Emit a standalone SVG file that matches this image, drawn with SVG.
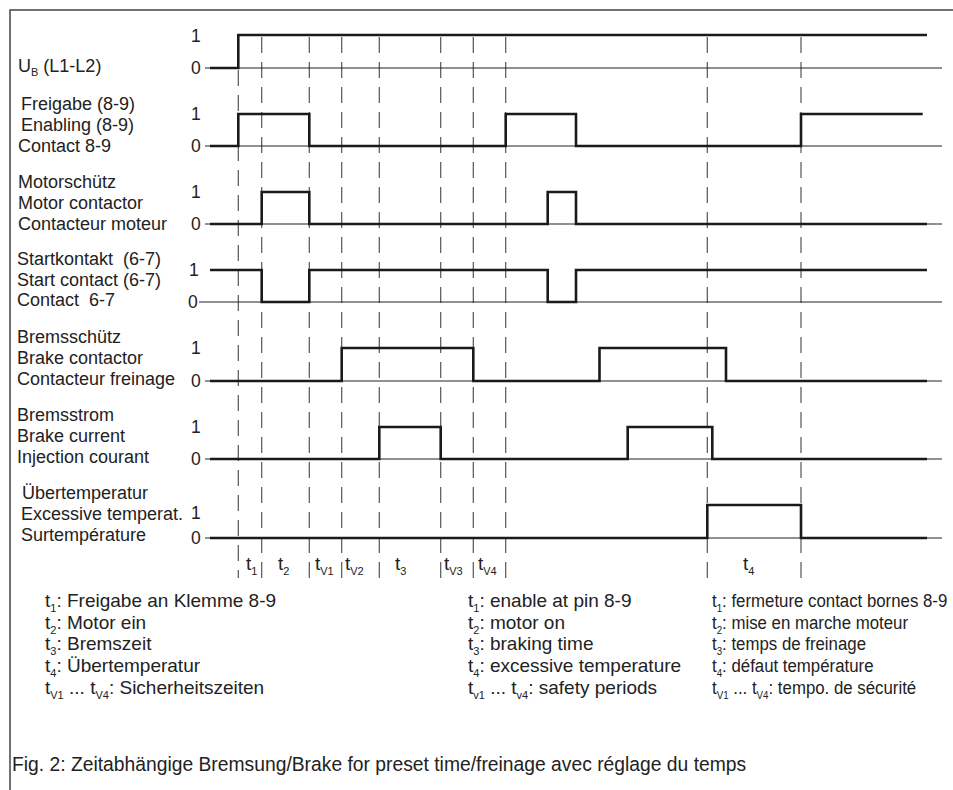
<svg xmlns="http://www.w3.org/2000/svg" width="953" height="790" viewBox="0 0 953 790">
<style>
text{font-family:"Liberation Sans",Arial,sans-serif;fill:#222;}
.lbl{font-size:18px;}
.num{font-size:17.5px;}
.tl{font-size:19px;}
.lg{font-size:19px;}
.cap{font-size:19.3px;}
.sub{font-size:11px;}
.frame{stroke:#444;stroke-width:1.5;fill:none;}
.base{stroke:#222;stroke-width:1.1;fill:none;}
.sig{stroke:#1a1a1a;stroke-width:2.6;fill:none;stroke-linejoin:miter;stroke-linecap:butt;}
.dash{stroke:#555;stroke-width:1.2;stroke-dasharray:16 9;fill:none;}
</style>
<rect width="953" height="790" fill="#fff"/>
<path class="frame" d="M10,790 V10 H953"/>

<g id="connectors">
  <g id="time-markers">
    <line class="dash" x1="238.3" y1="70" x2="238.3" y2="578"/>
    <line class="dash" x1="261.7" y1="37" x2="261.7" y2="578"/>
    <line class="dash" x1="309.3" y1="37" x2="309.3" y2="578"/>
    <line class="dash" x1="341.7" y1="37" x2="341.7" y2="578"/>
    <line class="dash" x1="379.3" y1="37" x2="379.3" y2="578"/>
    <line class="dash" x1="440.7" y1="37" x2="440.7" y2="578"/>
    <line class="dash" x1="473.3" y1="37" x2="473.3" y2="578"/>
    <line class="dash" x1="505.7" y1="37" x2="505.7" y2="578"/>
    <line class="dash" x1="707.3" y1="37" x2="707.3" y2="578"/>
    <line class="dash" x1="801" y1="37" x2="801" y2="578"/>
  </g>
  <g id="baselines">
    <line class="base" x1="205" y1="68" x2="942" y2="68"/>
    <line class="base" x1="205" y1="146" x2="942" y2="146"/>
    <line class="base" x1="205" y1="224" x2="942" y2="224"/>
    <line class="base" x1="199" y1="302" x2="942" y2="302"/>
    <line class="base" x1="205" y1="381" x2="942" y2="381"/>
    <line class="base" x1="205" y1="459" x2="942" y2="459"/>
    <line class="base" x1="205" y1="538" x2="942" y2="538"/>
  </g>
</g>

<g id="ub">
  <text class="lbl" x="18" y="72">U<tspan class="sub" dy="4">B</tspan><tspan dy="-4"> (L1-L2)</tspan></text>
  <text class="num" x="191" y="42">1</text>
  <text class="num" x="191" y="74">0</text>
  <path class="sig" d="M210,68 H238.3 V35 H927"/>
</g>

<g id="enable">
  <text class="lbl" x="21" y="110">Freigabe (8-9)</text>
  <text class="lbl" x="21" y="131">Enabling (8-9)</text>
  <text class="lbl" x="18" y="152">Contact 8-9</text>
  <text class="num" x="191" y="120">1</text>
  <text class="num" x="191" y="152">0</text>
  <path class="sig" d="M210,146 H238.3 V114 H309.3 V146 H505.7 V114 H576 V146 H801 V114 H922.7"/>
</g>

<g id="motor">
  <text class="lbl" x="18" y="188">Motorschütz</text>
  <text class="lbl" x="18" y="209">Motor contactor</text>
  <text class="lbl" x="18" y="230">Contacteur moteur</text>
  <text class="num" x="191" y="198">1</text>
  <text class="num" x="191" y="230">0</text>
  <path class="sig" d="M210,224 H261.7 V192 H309.3 V224 H547.7 V192 H576 V224 H927"/>
</g>

<g id="start">
  <text class="lbl" x="17" y="265" xml:space="preserve">Startkontakt  (6-7)</text>
  <text class="lbl" x="17" y="286">Start contact (6-7)</text>
  <text class="lbl" x="17" y="306" xml:space="preserve">Contact  6-7</text>
  <text class="num" x="189" y="276">1</text>
  <text class="num" x="188" y="308">0</text>
  <path class="sig" d="M210,270 H261.7 V302 H309.3 V270 H547.7 V302 H576 V270 H927"/>
</g>

<g id="brake-contactor">
  <text class="lbl" x="17" y="343">Bremsschütz</text>
  <text class="lbl" x="17" y="364">Brake contactor</text>
  <text class="lbl" x="17" y="385">Contacteur freinage</text>
  <text class="num" x="191" y="354">1</text>
  <text class="num" x="191" y="387">0</text>
  <path class="sig" d="M210,381 H341.7 V348 H473.3 V381 H599.5 V348 H726 V381 H927"/>
</g>

<g id="brake-current">
  <text class="lbl" x="17" y="421">Bremsstrom</text>
  <text class="lbl" x="17" y="442">Brake current</text>
  <text class="lbl" x="17" y="463">Injection courant</text>
  <text class="num" x="191" y="433">1</text>
  <text class="num" x="191" y="465">0</text>
  <path class="sig" d="M210,459 H379.3 V427 H440.7 V459 H627.7 V427 H712.3 V459 H927"/>
</g>

<g id="overtemp">
  <text class="lbl" x="22" y="499">Übertemperatur</text>
  <text class="lbl" x="21" y="520">Excessive temperat.</text>
  <text class="lbl" x="21" y="541">Surtempérature</text>
  <text class="num" x="191" y="519">1</text>
  <text class="num" x="191" y="544">0</text>
  <path class="sig" d="M210,538 H707.3 V505 H801 V538 H927"/>
</g>

<g id="time-labels">
  <text class="tl" x="246" y="570">t<tspan class="sub" dy="5">1</tspan></text>
  <text class="tl" x="278" y="570">t<tspan class="sub" dy="5">2</tspan></text>
  <text class="tl" x="315" y="570">t<tspan class="sub" dy="5">V1</tspan></text>
  <text class="tl" x="345" y="570">t<tspan class="sub" dy="5">V2</tspan></text>
  <text class="tl" x="395" y="570">t<tspan class="sub" dy="5">3</tspan></text>
  <text class="tl" x="444" y="570">t<tspan class="sub" dy="5">V3</tspan></text>
  <text class="tl" x="478" y="570">t<tspan class="sub" dy="5">V4</tspan></text>
  <text class="tl" x="743" y="570">t<tspan class="sub" dy="5">4</tspan></text>
</g>

<g id="legend-de">
  <text class="lg" x="45" y="607">t<tspan class="sub" dy="5">1</tspan><tspan dy="-5">: Freigabe an Klemme 8-9</tspan></text>
  <text class="lg" x="45" y="629">t<tspan class="sub" dy="5">2</tspan><tspan dy="-5">: Motor ein</tspan></text>
  <text class="lg" x="45" y="650">t<tspan class="sub" dy="5">3</tspan><tspan dy="-5">: Bremszeit</tspan></text>
  <text class="lg" x="45" y="672">t<tspan class="sub" dy="5">4</tspan><tspan dy="-5">: Übertemperatur</tspan></text>
  <text class="lg" x="45" y="694">t<tspan class="sub" dy="5">V1</tspan><tspan dy="-5"> ... t</tspan><tspan class="sub" dy="5">V4</tspan><tspan dy="-5">: Sicherheitszeiten</tspan></text>
</g>

<g id="legend-en">
  <text class="lg" x="468" y="607">t<tspan class="sub" dy="5">1</tspan><tspan dy="-5">: enable at pin 8-9</tspan></text>
  <text class="lg" x="468" y="629">t<tspan class="sub" dy="5">2</tspan><tspan dy="-5">: motor on</tspan></text>
  <text class="lg" x="468" y="650">t<tspan class="sub" dy="5">3</tspan><tspan dy="-5">: braking time</tspan></text>
  <text class="lg" x="468" y="672">t<tspan class="sub" dy="5">4</tspan><tspan dy="-5">: excessive temperature</tspan></text>
  <text class="lg" x="468" y="694">t<tspan class="sub" dy="5">v1</tspan><tspan dy="-5"> ... t</tspan><tspan class="sub" dy="5">v4</tspan><tspan dy="-5">: safety periods</tspan></text>
</g>

<g id="legend-fr" transform="translate(712,0) scale(0.885,1)">
  <text class="lg" x="0" y="607">t<tspan class="sub" dy="5">1</tspan><tspan dy="-5">: fermeture contact bornes 8-9</tspan></text>
  <text class="lg" x="0" y="629">t<tspan class="sub" dy="5">2</tspan><tspan dy="-5">: mise en marche moteur</tspan></text>
  <text class="lg" x="0" y="650">t<tspan class="sub" dy="5">3</tspan><tspan dy="-5">: temps de freinage</tspan></text>
  <text class="lg" x="0" y="672">t<tspan class="sub" dy="5">4</tspan><tspan dy="-5">: défaut température</tspan></text>
  <text class="lg" x="0" y="694">t<tspan class="sub" dy="5">V1</tspan><tspan dy="-5"> ... t</tspan><tspan class="sub" dy="5">V4</tspan><tspan dy="-5">: tempo. de sécurité</tspan></text>
</g>

<g id="caption">
  <text class="cap" x="12" y="771">Fig. 2: Zeitabhängige Bremsung/Brake for preset time/freinage avec réglage du temps</text>
</g>
</svg>
